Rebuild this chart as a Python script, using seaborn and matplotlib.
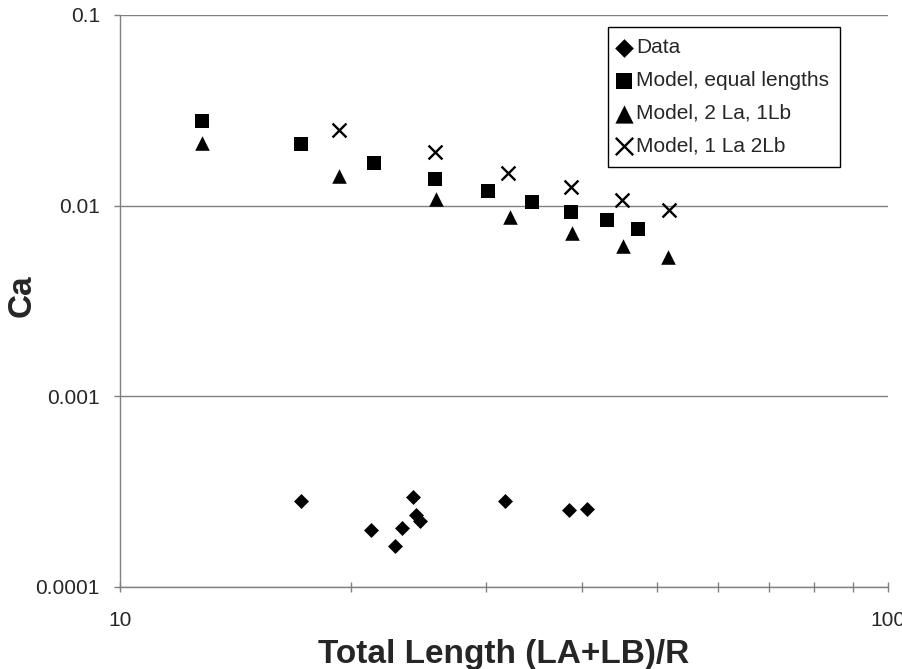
import numpy as np
import pandas as pd
import matplotlib
matplotlib.use("Agg")
import matplotlib.pyplot as plt
import seaborn as sns
from matplotlib.ticker import FixedLocator, NullLocator, NullFormatter

# ---- data ----
data_x = [17.2, 21.2, 22.8, 23.3, 24.1, 24.3, 24.6, 31.7, 38.4, 40.6]
data_y = [0.000284, 0.000200, 0.000165, 0.000205, 0.000295, 0.000240, 0.000223, 0.000284, 0.000252, 0.000258]

eq_x = [12.8, 17.2, 21.4, 25.7, 30.1, 34.4, 38.7, 43.1, 47.3]
eq_y = [0.0278, 0.0210, 0.0167, 0.0138, 0.0119, 0.0104, 0.00925, 0.00839, 0.00752]

la2_x = [12.8, 19.3, 25.8, 32.2, 38.8, 45.2, 51.7]
la2_y = [0.0213, 0.0143, 0.0108, 0.0087, 0.00717, 0.00613, 0.00537]

lb2_x = [19.3, 25.7, 32.0, 38.7, 45.1, 51.9]
lb2_y = [0.0249, 0.0191, 0.0148, 0.0125, 0.0107, 0.00947]

labels = ["Data", "Model, equal lengths", "Model, 2 La, 1Lb", "Model, 1 La 2Lb"]
x_major = [10, 100]
x_major_labels = ["10", "100"]
x_minor = [20, 30, 40, 50, 60, 70, 80, 90]
y_ticks = [0.0001, 0.001, 0.01, 0.1]
y_tick_labels = ["0.0001", "0.001", "0.01", "0.1"]

sns.set_style("white")
plt.rcParams["font.family"] = ["Liberation Sans", "DejaVu Sans"]

fig = plt.figure(figsize=(9.02, 6.69), dpi=100)
ax = fig.add_axes([120 / 902, 1 - 587 / 669, 768 / 902, 572 / 669])

grey = "#808080"

sns.scatterplot(x=data_x, y=data_y, marker="D", s=58, color="black",
                edgecolor="black", linewidth=0, label=labels[0], ax=ax, zorder=3)
sns.scatterplot(x=eq_x, y=eq_y, marker="s", s=88, color="black",
                edgecolor="black", linewidth=0, label=labels[1], ax=ax, zorder=3)
sns.scatterplot(x=la2_x, y=la2_y, marker="^", s=110, color="black",
                edgecolor="black", linewidth=0, label=labels[2], ax=ax, zorder=3)
sns.scatterplot(x=lb2_x, y=lb2_y, marker="x", s=100, color="black",
                linewidth=1.7, label=labels[3], ax=ax, zorder=3)

ax.set_xscale("log")
ax.set_yscale("log")
ax.set_xlim(10, 100)
ax.set_ylim(0.0001, 0.1)

ax.xaxis.set_major_locator(FixedLocator(x_major))
ax.set_xticklabels(x_major_labels)
ax.xaxis.set_minor_locator(FixedLocator(x_minor))
ax.xaxis.set_minor_formatter(NullFormatter())
ax.yaxis.set_major_locator(FixedLocator(y_ticks))
ax.set_yticklabels(y_tick_labels)
ax.yaxis.set_minor_locator(NullLocator())

ax.tick_params(axis="x", which="both", direction="inout", length=7, width=1,
               color=grey, labelsize=15, pad=14, bottom=True)
ax.tick_params(axis="y", which="major", direction="out", length=4.5, width=1,
               color=grey, labelsize=15, pad=10, left=True)

ax.yaxis.grid(True, color=grey, linewidth=1)
ax.xaxis.grid(False)
ax.set_axisbelow(True)

for side in ["top", "right"]:
    ax.spines[side].set_visible(False)
for side in ["left", "bottom"]:
    ax.spines[side].set_color(grey)
    ax.spines[side].set_linewidth(1)

ax.set_xlabel("Total Length (LA+LB)/R", fontsize=24, fontweight="bold", labelpad=6)
ax.set_ylabel("Ca", fontsize=24, fontweight="bold")
ax.yaxis.set_label_coords(-0.107, 0.51)

leg = ax.legend(loc="upper left", bbox_to_anchor=(0.635, 0.979), frameon=True,
                fancybox=False, edgecolor="black", framealpha=1, fontsize=15,
                handletextpad=0.3, handlelength=0.5, borderpad=0.55,
                labelspacing=0.66, borderaxespad=0, markerscale=1.25)
leg.get_frame().set_linewidth(1)

fig.savefig("out.png", dpi=100)
